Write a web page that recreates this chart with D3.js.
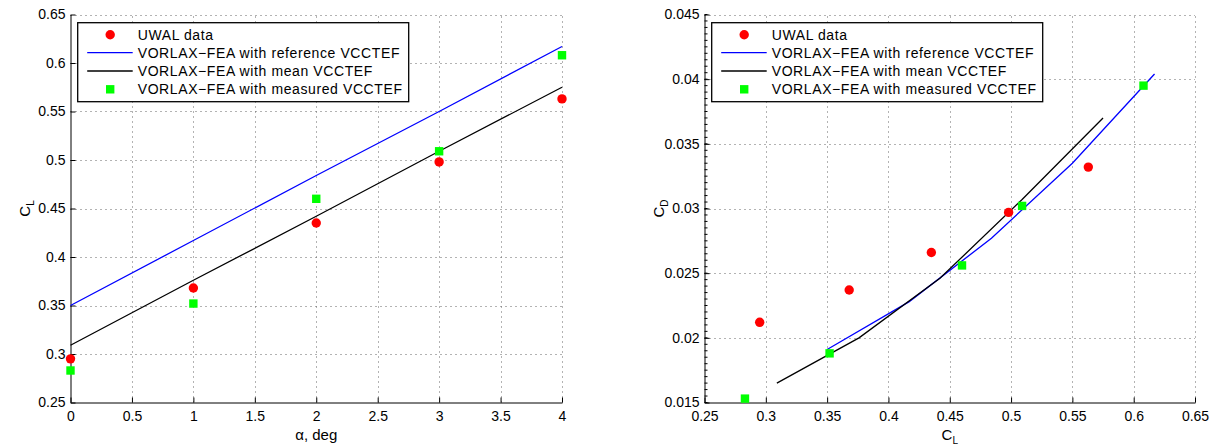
<!DOCTYPE html>
<html>
<head>
<meta charset="utf-8">
<script src="https://cdn.jsdelivr.net/npm/d3@7"></script>
<style>
  body { margin: 0; background: #fff; }
  svg { display: block; font-family: "Liberation Sans", Arial, sans-serif; }
  .tick text { font-size: 14px; fill: #000; }
  .legend text { font-size: 14px; letter-spacing: 0.6px; }
</style>
</head>
<body>
<svg id="chart" width="1214" height="447"></svg>
<script>
// angle of attack, deg
const alpha = [0, 1, 2, 3, 4];
// lift coefficient vs alpha
const clUwal = [0.295, 0.368, 0.435, 0.498, 0.563];
const clReference = [0.350, 0.417, 0.484, 0.550, 0.617];
const clMean = [0.309, 0.376, 0.442, 0.509, 0.575];
const clMeasured = [0.283, 0.352, 0.460, 0.509, 0.608];
// drag coefficient
const cdUwal = [0.0212, 0.0237, 0.0266, 0.0297, 0.0332];
const cdReference = [0.0191, 0.0228, 0.0277, 0.0335, 0.0404];
const cdMean = [0.0165, 0.0200, 0.0246, 0.0307, 0.0370];
const cdMeasured = [0.0153, 0.0188, 0.0256, 0.0302, 0.0395];

const alphaTicks = [0, 0.5, 1, 1.5, 2, 2.5, 3, 3.5, 4];
const clTicks = [0.25, 0.3, 0.35, 0.4, 0.45, 0.5, 0.55, 0.6, 0.65];
const cdTicks = [0.015, 0.02, 0.025, 0.03, 0.035, 0.04, 0.045];

const legendLabels = [
  "UWAL data",
  "VORLAX\u2212FEA with reference VCCTEF",
  "VORLAX\u2212FEA with mean VCCTEF",
  "VORLAX\u2212FEA with measured VCCTEF",
];

const RED = "#ff0000", BLUE = "#0000ff", BLACK = "#000000", GREEN = "#00ff00";
const TOP = 14.5, BOTTOM = 402.5;

const svg = d3.select("#chart");
const fmt = (d) => String(+d.toFixed(4));

function drawPanel(opts) {
  const x = d3.scaleLinear().domain(opts.xDomain).range([opts.left, opts.right]);
  const y = d3.scaleLinear().domain(opts.yDomain).range([BOTTOM, TOP]);
  const g = svg.append("g");

  // dotted grid
  const grid = g.append("g").attr("stroke", "#666").attr("stroke-width", 1).attr("stroke-dasharray", "1,4");
  grid.selectAll("line.gx").data(opts.xTicks.slice(1)).join("line")
    .attr("x1", (d) => Math.round(x(d)) + 0.5).attr("x2", (d) => Math.round(x(d)) + 0.5)
    .attr("y1", BOTTOM).attr("y2", TOP);
  grid.selectAll("line.gy").data(opts.yTicks.slice(1)).join("line")
    .attr("y1", (d) => Math.round(y(d)) + 0.5).attr("y2", (d) => Math.round(y(d)) + 0.5)
    .attr("x1", opts.left).attr("x2", opts.right);

  // axes, ticks pointing inward
  g.append("g").attr("transform", `translate(0,${BOTTOM})`)
    .call(d3.axisBottom(x).tickValues(opts.xTicks).tickFormat(fmt).tickSize(-5).tickPadding(8.5).tickSizeOuter(0))
    .call((a) => a.select(".domain").attr("stroke", "#000"));
  g.append("g").attr("transform", `translate(${opts.left},0)`)
    .call(d3.axisLeft(y).tickValues(opts.yTicks).tickFormat(fmt).tickSize(-5).tickPadding(5).tickSizeOuter(0))
    .call((a) => a.select(".domain").attr("stroke", "#000"));
  g.selectAll(".tick text").style("font-size", "14px");

  if (opts.minorY) {
    const minor = d3.range(opts.yDomain[0], opts.yDomain[1] + 1e-9, opts.minorY);
    g.append("g").selectAll("line").data(minor).join("line")
      .attr("x1", opts.left).attr("x2", opts.left + 3)
      .attr("y1", (d) => y(d)).attr("y2", (d) => y(d))
      .attr("stroke", "#000");
  }

  const line = d3.line().x((d) => x(d[0])).y((d) => y(d[1]));
  opts.lines.forEach((s) => {
    g.append("path").datum(d3.zip(s.xs, s.ys))
      .attr("d", line).attr("fill", "none").attr("stroke", s.color).attr("stroke-width", 1.3);
  });

  g.selectAll("circle.uwal").data(d3.zip(opts.red[0], opts.red[1])).join("circle")
    .attr("cx", (d) => x(d[0])).attr("cy", (d) => y(d[1])).attr("r", 4.7).attr("fill", RED);
  g.selectAll("rect.meas").data(d3.zip(opts.green[0], opts.green[1])).join("rect")
    .attr("x", (d) => x(d[0]) - 4.2).attr("y", (d) => y(d[1]) - 4.2)
    .attr("width", 8.4).attr("height", 8.4).attr("fill", GREEN);

  // legend
  const lx = opts.left + 7.2, ly = 22.7;
  const lg = g.append("g").attr("class", "legend");
  lg.append("rect").attr("x", lx).attr("y", ly).attr("width", 331).attr("height", 79)
    .attr("fill", "#fff").attr("stroke", "#000").attr("stroke-width", 1.3);
  const rows = [34.7, 52.7, 71, 89.3];
  lg.append("circle").attr("cx", lx + 32.5).attr("cy", rows[0]).attr("r", 4.7).attr("fill", RED);
  lg.append("line").attr("x1", lx + 9.5).attr("x2", lx + 55).attr("y1", rows[1]).attr("y2", rows[1])
    .attr("stroke", BLUE).attr("stroke-width", 1.3);
  lg.append("line").attr("x1", lx + 9.5).attr("x2", lx + 55).attr("y1", rows[2]).attr("y2", rows[2])
    .attr("stroke", BLACK).attr("stroke-width", 1.3);
  lg.append("rect").attr("x", lx + 32.5 - 4.2).attr("y", rows[3] - 4.2).attr("width", 8.4).attr("height", 8.4)
    .attr("fill", GREEN);
  lg.selectAll("text").data(legendLabels).join("text")
    .attr("x", lx + 60).attr("y", (d, i) => rows[i] + 5).text((d) => d);

  // axis labels
  const xl = svg.append("text").attr("x", (opts.left + opts.right) / 2).attr("y", 440)
    .attr("text-anchor", "middle").style("font-size", "15px");
  opts.xLabel(xl);
  const yl = svg.append("text")
    .attr("transform", `translate(${opts.left - 41},${(TOP + BOTTOM) / 2}) rotate(-90)`)
    .attr("text-anchor", "middle").style("font-size", "15px");
  opts.yLabel(yl);
}

function coef(sel, main, sub) {
  sel.append("tspan").text(main);
  sel.append("tspan").attr("dy", 4).style("font-size", "10px").text(sub);
}

drawPanel({
  left: 70.5, right: 562,
  xDomain: [0, 4], yDomain: [0.25, 0.65],
  xTicks: alphaTicks, yTicks: clTicks,
  lines: [
    { xs: alpha, ys: clReference, color: BLUE },
    { xs: alpha, ys: clMean, color: BLACK },
  ],
  red: [alpha, clUwal],
  green: [alpha, clMeasured],
  xLabel: (t) => t.text("\u03b1, deg"),
  yLabel: (t) => coef(t, "C", "L"),
});

drawPanel({
  left: 704.5, right: 1195,
  xDomain: [0.25, 0.65], yDomain: [0.015, 0.045],
  xTicks: [0.25, 0.3, 0.35, 0.4, 0.45, 0.5, 0.55, 0.6, 0.65], yTicks: cdTicks,
  minorY: 0.0005,
  lines: [
    { xs: clReference, ys: cdReference, color: BLUE },
    { xs: clMean, ys: cdMean, color: BLACK },
  ],
  red: [clUwal, cdUwal],
  green: [clMeasured, cdMeasured],
  xLabel: (t) => coef(t, "C", "L"),
  yLabel: (t) => coef(t, "C", "D"),
});
</script>
</body>
</html>
